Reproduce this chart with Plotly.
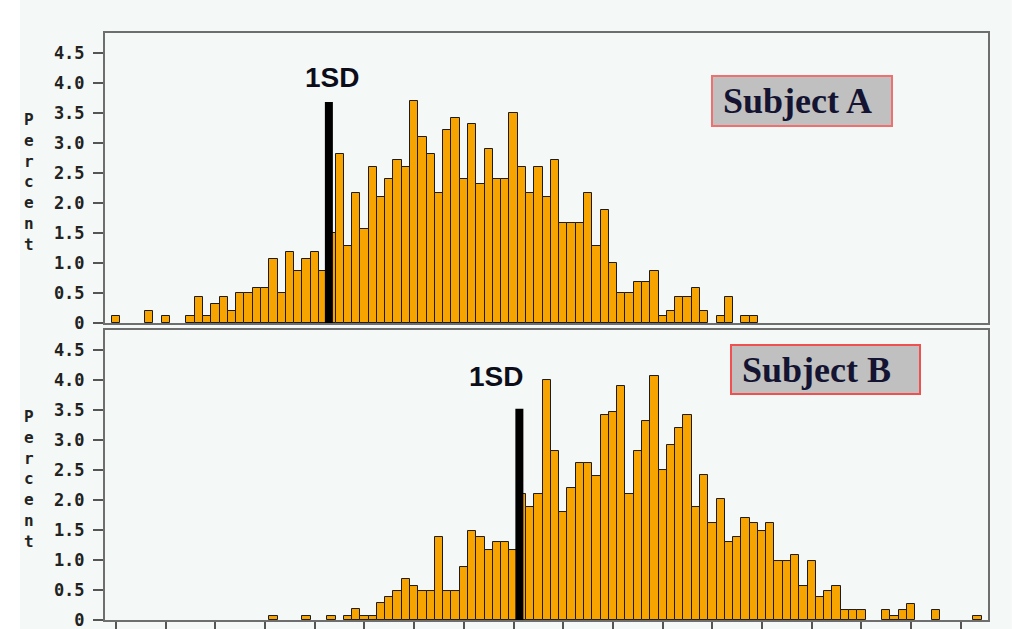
import plotly.graph_objects as go

# ---- data ----
bins = list(range(0, 105))  # histogram midpoints (bin index)

subject_a = [
    0.12, 0, 0, 0, 0.21, 0, 0.12, 0, 0, 0.12,
    0.43, 0.12, 0.32, 0.43, 0.21, 0.51, 0.51, 0.58, 0.58, 1.08,
    0.51, 1.19, 0.87, 1.08, 1.19, 0.87, 1.50, 2.82, 1.29, 2.18,
    1.58, 2.61, 2.11, 2.40, 2.72, 2.61, 3.71, 3.10, 2.82, 2.18,
    3.22, 3.42, 2.40, 3.32, 2.32, 2.90, 2.40, 2.40, 3.50, 2.61,
    2.18, 2.61, 2.11, 2.72, 1.68, 1.68, 1.68, 2.18, 1.29, 1.89,
    1.00, 0.51, 0.51, 0.69, 0.69, 0.87, 0.12, 0.21, 0.43, 0.43,
    0.58, 0.21, 0, 0.12, 0.43, 0, 0.12, 0.12, 0, 0,
    0, 0, 0, 0, 0, 0, 0, 0, 0, 0,
    0, 0, 0, 0, 0, 0, 0, 0, 0, 0,
    0, 0, 0, 0, 0,
]

subject_b = [
    0, 0, 0, 0, 0, 0, 0, 0, 0, 0,
    0, 0, 0, 0, 0, 0, 0, 0, 0, 0.07,
    0, 0, 0, 0.07, 0, 0, 0.07, 0, 0.07, 0.18,
    0.07, 0.07, 0.28, 0.38, 0.49, 0.68, 0.57, 0.49, 0.49, 1.38,
    0.49, 0.49, 0.88, 1.48, 1.38, 1.17, 1.30, 1.30, 1.17, 2.10,
    1.89, 2.10, 3.99, 2.81, 1.80, 2.20, 2.61, 2.61, 2.40, 3.42,
    3.47, 3.89, 2.10, 2.81, 3.32, 4.07, 2.49, 2.91, 3.20, 3.41,
    1.89, 2.41, 1.62, 2.01, 1.30, 1.38, 1.70, 1.62, 1.48, 1.62,
    0.99, 0.99, 1.08, 0.57, 0.99, 0.38, 0.48, 0.57, 0.17, 0.17,
    0.17, 0, 0, 0.17, 0.07, 0.17, 0.27, 0, 0, 0.17,
    0, 0, 0, 0, 0.07,
]

sd_x = [25.7, 48.7]        # 1SD marker position (bin units) for A, B
sd_top = [3.69, 3.52]      # 1SD marker height (percent) for A, B
subject_names = ["Subject A", "Subject B"]
sd_label = "1SD"
y_title = "Percent"

y_tickvals = [0, 0.5, 1.0, 1.5, 2.0, 2.5, 3.0, 3.5, 4.0, 4.5]
y_ticktext = ["0", "0.5", "1.0", "1.5", "2.0", "2.5", "3.0", "3.5", "4.0", "4.5"]
x_tickvals = list(range(0, 103, 6))

# ---- style ----
ORANGE = "#f7a300"
BG = "#f4f8f6"
FRAME = "#6e6e6e"
MONO = "DejaVu Sans Mono"


def nonzero(vals):
    return [v if v > 0 else None for v in vals]


fig = go.Figure()

bar_marker = dict(color=ORANGE, line=dict(color="#1c1c1c", width=1))
fig.add_trace(go.Bar(x=bins, y=nonzero(subject_a), width=1, marker=bar_marker,
                     xaxis="x2", yaxis="y2", showlegend=False))
fig.add_trace(go.Bar(x=bins, y=nonzero(subject_b), width=1, marker=bar_marker,
                     xaxis="x", yaxis="y", showlegend=False))

fig.add_trace(go.Scatter(x=[sd_x[0], sd_x[0]], y=[-0.03, sd_top[0]], mode="lines",
                         line=dict(color="black", width=8), xaxis="x2", yaxis="y2",
                         showlegend=False, cliponaxis=False))
fig.add_trace(go.Scatter(x=[sd_x[1], sd_x[1]], y=[-0.03, sd_top[1]], mode="lines",
                         line=dict(color="black", width=8), xaxis="x", yaxis="y",
                         showlegend=False, cliponaxis=False))

xrange = [-1.33, 105.28]
common_x = dict(range=xrange, showline=True, linecolor=FRAME, linewidth=2, mirror=True,
                showgrid=False, zeroline=False, showticklabels=False, automargin=False)
common_y = dict(showline=True, linecolor=FRAME, linewidth=2, mirror=True,
                showgrid=False, zeroline=False, ticks="outside", ticklen=10,
                tickcolor="#555", tickwidth=2, tickvals=y_tickvals, ticktext=y_ticktext,
                tickfont=dict(family=MONO, size=17, color="#222", weight="bold"),
                ticklabelstandoff=5, automargin=False, ticklabeloverflow="allow")

fig.update_layout(
    width=1023, height=629,
    margin=dict(l=105, r=35, t=33, b=9, autoexpand=False),
    paper_bgcolor=BG, plot_bgcolor=BG,
    bargap=0,
    xaxis=dict(domain=[0, 1], anchor="y", ticks="outside", ticklen=10,
               tickcolor="#555", tickwidth=2, tickvals=x_tickvals, **common_x),
    xaxis2=dict(domain=[0, 1], anchor="y2", ticks="", **common_x),
    yaxis=dict(domain=[0, 0.494], anchor="x", range=[0, 4.83], **common_y),
    yaxis2=dict(domain=[0.5055, 1], anchor="x2", range=[0, 4.84], **common_y),
)

percent_txt = "<br>".join(list(y_title))
pfont = dict(family=MONO, size=16, color="#222", weight="bold")
box_font = dict(family="Liberation Serif", size=36, color="#141432", weight="bold")
annots = [
    dict(text=percent_txt, xref="paper", yref="y2", x=-0.0883, y=2.35, showarrow=False,
         xshift=-5, font=pfont),
    dict(text=percent_txt, xref="paper", yref="y", x=-0.0883, y=2.35, showarrow=False,
         xshift=-5, font=pfont),
    dict(text=sd_label, xref="x2", yref="y2", x=26.1, y=4.09, showarrow=False,
         font=dict(family="Liberation Sans", size=28, color="#0d0d1a", weight="bold")),
    dict(text=sd_label, xref="x", yref="y", x=45.9, y=4.05, showarrow=False,
         font=dict(family="Liberation Sans", size=28, color="#0d0d1a", weight="bold")),
    dict(text="&nbsp;" + subject_names[0], xref="x2", yref="y2", x=82.8, y=3.71,
         showarrow=False, bgcolor="#c0c0c0", bordercolor="#f07070", borderwidth=2,
         borderpad=1, width=176, height=46, align="left", font=box_font),
    dict(text="&nbsp;" + subject_names[1], xref="x", yref="y", x=85.6, y=4.18,
         showarrow=False, bgcolor="#c0c0c0", bordercolor="#f05050", borderwidth=2,
         borderpad=1, width=185, height=45, align="left", font=box_font),
]
fig.update_layout(annotations=annots)

fig.update_layout(shapes=[
    dict(type="rect", xref="paper", yref="paper", x0=-0.2, x1=-0.0963, y0=-0.1, y1=1.1,
         fillcolor="white", line=dict(width=0), layer="below"),
    dict(type="rect", xref="paper", yref="paper", x0=1.027, x1=1.1, y0=-0.1, y1=1.1,
         fillcolor="white", line=dict(width=0), layer="below"),
])

fig.write_html("out.html")
